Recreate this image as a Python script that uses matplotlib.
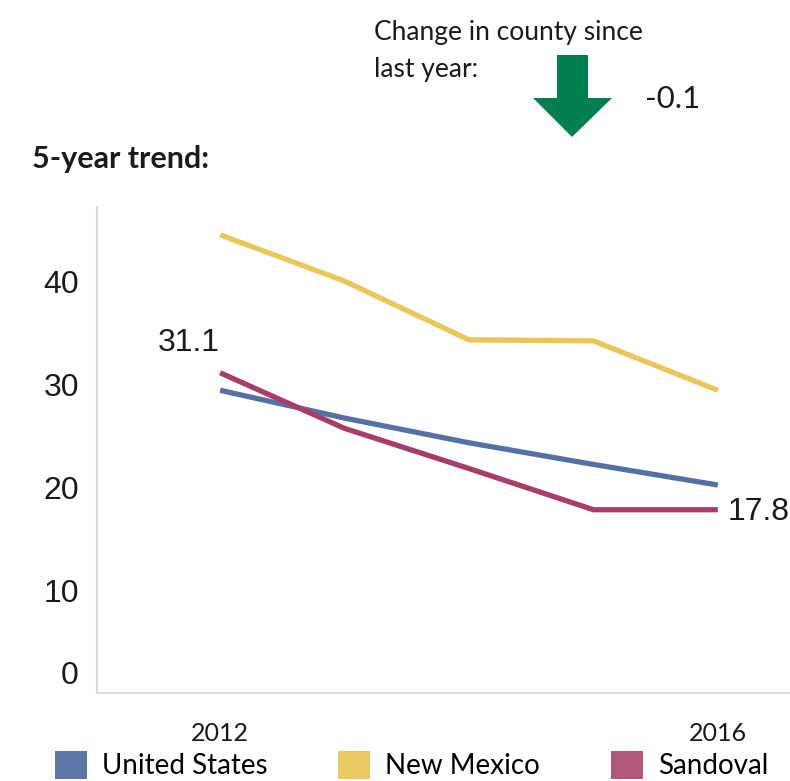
import matplotlib
matplotlib.use("Agg")
import matplotlib.pyplot as plt
from matplotlib.patches import Polygon, Patch
import matplotlib.transforms as mtransforms

years = [2012, 2013, 2014, 2015, 2016]
series_names = ["United States", "New Mexico", "Sandoval"]
us = [29.4, 26.7, 24.3, 22.2, 20.2]
nm = [44.5, 40.0, 34.3, 34.2, 29.4]
sandoval = [31.1, 25.7, 21.8, 17.8, 17.8]
colors = ["#5570a5", "#ebc658", "#a83c6a"]
legend_colors = ["#5b76a7", "#ebc962", "#b0577b"]
xtick_years = [2012, 2016]
yticks = [0, 10, 20, 30, 40]
change_value = "-0.1"

W, H = 790, 781
fig = plt.figure(figsize=(W / 100, H / 100), dpi=100)

def fx(x):
    return x / W

def fy(y):
    return 1 - y / H

ax = fig.add_axes([fx(97), fy(693), fx(790) - fx(97), fy(207) - fy(693)])
for vals, c in zip([us, nm, sandoval], colors):
    ax.plot(years, vals, color=c, lw=3.8, solid_capstyle="butt")

ax.set_xlim(2011.01, 2016.58)
ax.set_ylim(0, 47.2)
for s in ["top", "right"]:
    ax.spines[s].set_visible(False)
for s in ["left", "bottom"]:
    ax.spines[s].set_color("#d9d9d9")
    ax.spines[s].set_linewidth(1.5)
ax.set_xticks(xtick_years)
ax.set_xticklabels([str(y) for y in xtick_years], fontfamily="Lato", fontsize=18, color="#1a1a1a")
ax.set_yticks(yticks)
ax.set_yticklabels([str(v) for v in yticks], fontfamily="Liberation Sans", fontsize=23, color="#1a1a1a")
ax.tick_params(axis="both", length=0)
ax.tick_params(axis="y", pad=13)
ax.tick_params(axis="x", pad=21)
# the zero label sits a bit higher in the reference
zl = ax.get_yticklabels()[0]
zl.set_transform(zl.get_transform() + mtransforms.ScaledTranslation(0, 21 / 100, fig.dpi_scale_trans))

# data labels
ax.annotate(f"{sandoval[0]:.1f}", (years[0], sandoval[0]), xytext=(0, 15.8), textcoords="offset points",
            ha="right", va="baseline", fontfamily="Liberation Sans", fontsize=23, color="#1a1a1a")
ax.annotate(f"{sandoval[-1]:.1f}", (years[-1], sandoval[-1]), xytext=(7, -7.2), textcoords="offset points",
            ha="left", va="baseline", fontfamily="Liberation Sans", fontsize=23, color="#1a1a1a")

# headings
fig.text(fx(32), fy(168), "5-year trend:", fontfamily="Lato", fontweight="bold", fontsize=22,
         color="#1a1a1a", va="baseline")
fig.text(fx(374), fy(40), "Change in county since", fontfamily="Lato", fontsize=19,
         color="#1a1a1a", va="baseline")
fig.text(fx(374), fy(77), "last year:", fontfamily="Lato", fontsize=19,
         color="#1a1a1a", va="baseline")
fig.text(fx(645), fy(108), change_value, fontfamily="Lato", fontsize=22.5,
         color="#1a1a1a", va="baseline")

# down arrow
pts = [(557, 55), (588, 55), (588, 98), (612, 98), (572, 137), (533, 98), (557, 98)]
fig.patches.append(Polygon([(fx(x), fy(y)) for x, y in pts], closed=True,
                           transform=fig.transFigure, facecolor="#007f4f", edgecolor="none"))

# legend
handles = [Patch(facecolor=c, edgecolor="none", label=n) for c, n in zip(legend_colors, series_names)]
fig.legend(handles=handles, loc="upper left", bbox_to_anchor=(fx(55), fy(751)), ncol=3,
           frameon=False, prop={"family": "Lato", "size": 20}, handlelength=1.15, handleheight=1.15,
           handletextpad=0.54, columnspacing=2.55, borderaxespad=0, borderpad=0)

fig.savefig("out.png", dpi=100, facecolor="white")
